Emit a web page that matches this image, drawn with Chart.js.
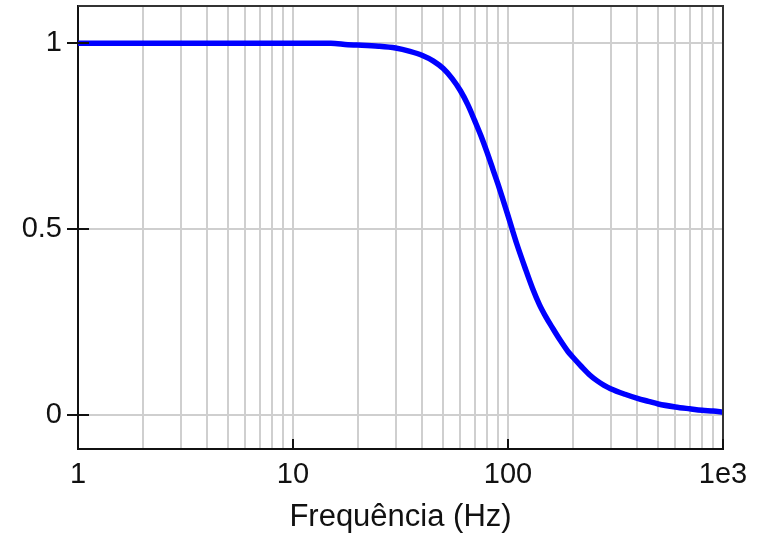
<!DOCTYPE html>
<html>
<head>
<meta charset="utf-8">
<script src="https://cdn.jsdelivr.net/npm/chart.js@4"></script>
<style>
  html, body { margin: 0; padding: 0; background: #fff; }
  #wrap { width: 760px; height: 535px; }
</style>
</head>
<body>
<div id="wrap"><canvas id="myChart" width="760" height="535"></canvas></div>
<script>
// frequency (Hz) and normalised amplitude
const freqs = [1, 2, 5, 10, 15, 18, 20, 25, 30, 35, 40, 45, 50, 55, 60, 65, 70, 75, 80, 85, 90, 95,
  100, 105, 110, 120, 130, 140, 150, 160, 175, 190, 200, 220, 240, 260, 280, 300, 350, 400, 450,
  500, 600, 700, 800, 900, 1000];
const gains = [1.0, 1.0, 1.0, 1.0, 1.0, 0.996, 0.995, 0.992, 0.987, 0.978, 0.967, 0.952, 0.932, 0.905,
  0.873, 0.835, 0.792, 0.75, 0.706, 0.662, 0.62, 0.578,
  0.537, 0.497, 0.46, 0.397, 0.342, 0.298, 0.265, 0.238, 0.202, 0.172, 0.157, 0.131, 0.109, 0.093,
  0.081, 0.072, 0.057, 0.046, 0.038, 0.031, 0.023, 0.018, 0.014, 0.012, 0.009];

const xMajorTicks = [1, 10, 100, 1000];
const xMajorLabels = ['1', '10', '100', '1e3'];
const yTicks = [0, 0.5, 1];
const yTickLabels = ['0', '0.5', '1'];
const xTitle = 'Frequência (Hz)';

// minor grid positions 1..9 in each decade
const xGridTicks = [];
for (let d = 1; d < 1000; d *= 10) {
  for (let m = 1; m < 10; m++) xGridTicks.push(m * d);
}
xGridTicks.push(1000);

const points = freqs.map((f, i) => ({ x: f, y: gains[i] }));

const frameAndTicks = {
  id: 'frameAndTicks',
  afterDraw(chart) {
    const ctx = chart.ctx;
    const a = chart.chartArea;
    const xs = chart.scales.x, ys = chart.scales.y;
    ctx.save();
    ctx.strokeStyle = '#333';
    ctx.lineWidth = 2;
    ctx.beginPath();
    ctx.moveTo(a.left, a.top);
    ctx.lineTo(a.right, a.top);
    ctx.lineTo(a.right, a.bottom);
    ctx.stroke();
    ctx.strokeStyle = '#111';
    ctx.beginPath();
    xMajorTicks.forEach(v => {
      const px = Math.round(xs.getPixelForValue(v));
      ctx.moveTo(px, a.bottom);
      ctx.lineTo(px, a.bottom - 10);
    });
    yTicks.forEach(v => {
      const py = Math.round(ys.getPixelForValue(v));
      ctx.moveTo(a.left - 11, py);
      ctx.lineTo(a.left + 11, py);
    });
    ctx.stroke();
    ctx.restore();
  }
};

const chartConfig = {
  type: 'line',
  data: {
    datasets: [{
      data: points,
      borderColor: '#0000ff',
      borderWidth: 5.5,
      pointRadius: 0,
      cubicInterpolationMode: 'monotone',
      fill: false
    }]
  },
  options: {
    responsive: false,
    animation: false,
    layout: { padding: { left: 0, right: 37, top: 6, bottom: 0 } },
    plugins: { legend: { display: false }, tooltip: { enabled: false } },
    scales: {
      x: {
        type: 'logarithmic',
        min: 1,
        max: 1000,
        afterBuildTicks(scale) {
          scale.ticks = xGridTicks.map(v => ({ value: v }));
        },
        afterFit(scale) {
          scale.height = 86;
          scale.paddingLeft = 0;
          scale.paddingRight = 0;
        },
        grid: { color: '#cfcfcf', lineWidth: 2, drawTicks: false },
        border: { display: true, color: '#111', width: 2 },
        ticks: {
          autoSkip: false,
          maxRotation: 0,
          padding: 9,
          color: '#111',
          font: { family: 'Liberation Sans, Arial, sans-serif', size: 29 },
          callback(value) {
            const i = xMajorTicks.indexOf(value);
            return i >= 0 ? xMajorLabels[i] : '';
          }
        },
        title: {
          display: true,
          text: xTitle,
          color: '#111',
          padding: 0,
          font: { family: 'Liberation Sans, Arial, sans-serif', size: 31, lineHeight: 1.1 }
        }
      },
      y: {
        min: -0.09,
        max: 1.1,
        afterBuildTicks(scale) {
          scale.ticks = yTicks.map(v => ({ value: v }));
        },
        afterFit(scale) {
          scale.width = 78;
          scale.paddingTop = 0;
          scale.paddingBottom = 0;
        },
        grid: { color: '#cfcfcf', lineWidth: 2, drawTicks: false },
        border: { display: true, color: '#111', width: 2 },
        ticks: {
          padding: 16,
          color: '#111',
          font: { family: 'Liberation Sans, Arial, sans-serif', size: 29 },
          callback(value) {
            const i = yTicks.indexOf(value);
            return i >= 0 ? yTickLabels[i] : '';
          }
        }
      }
    }
  },
  plugins: [frameAndTicks]
};

const chartCanvas = document.getElementById('myChart');
const myChart = new Chart(chartCanvas.getContext('2d'), chartConfig);
</script>
</body>
</html>
